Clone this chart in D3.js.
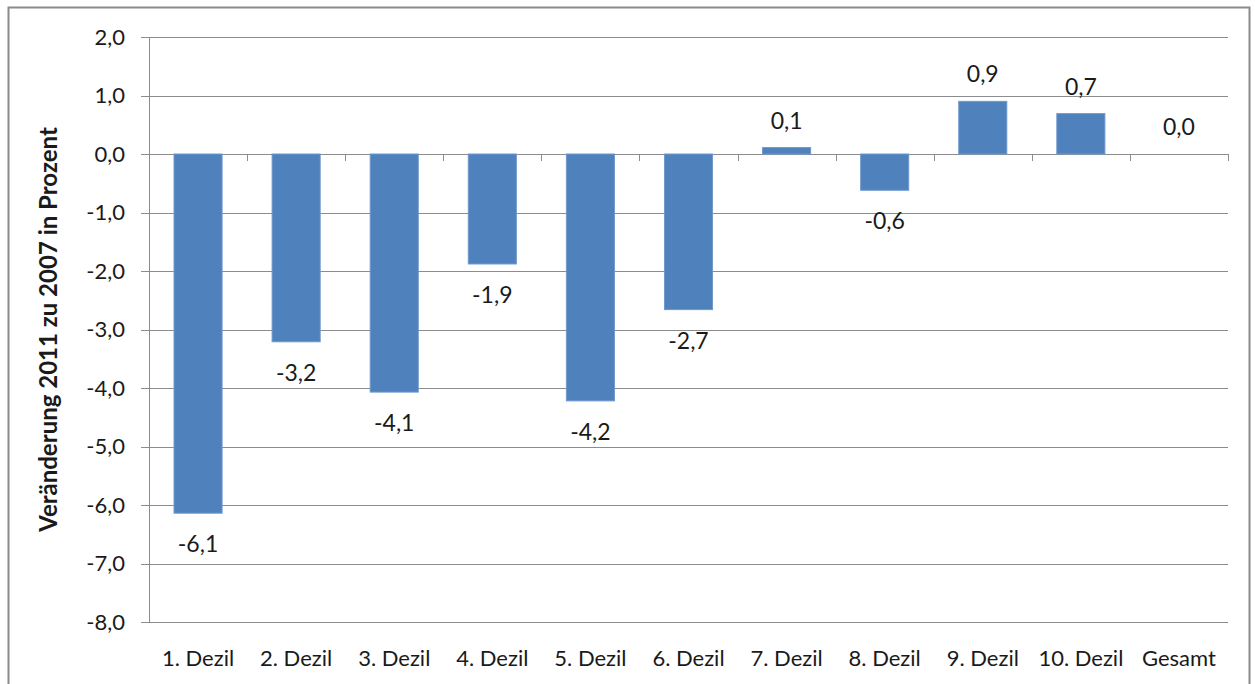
<!DOCTYPE html>
<html>
<head>
<meta charset="utf-8">
<script src="https://cdn.jsdelivr.net/npm/d3@7"></script>
<style>
  body { margin: 0; background: #fff; }
  svg text { font-family: Lato, "Open Sans", sans-serif; fill: #1a1a1a; }
</style>
</head>
<body>
<svg id="chart" width="1255" height="684"></svg>
<script>
var categories = ["1. Dezil", "2. Dezil", "3. Dezil", "4. Dezil", "5. Dezil", "6. Dezil",
                  "7. Dezil", "8. Dezil", "9. Dezil", "10. Dezil", "Gesamt"];
var values = [-6.14, -3.21, -4.07, -1.88, -4.22, -2.66, 0.11, -0.62, 0.9, 0.69, 0.0];
var yTicks = [2, 1, 0, -1, -2, -3, -4, -5, -6, -7, -8];
var yTitle = "Veränderung 2011 zu 2007 in Prozent";

var BAR_COLOR = "#4F81BD";
var GRID_COLOR = "#8c8c8c";

var svg = d3.select("#chart");

// outer chart border
svg.append("rect")
    .attr("x", 8.5).attr("y", 7.5)
    .attr("width", 1241).attr("height", 690)
    .attr("fill", "none")
    .attr("stroke", "#8a8a8a")
    .attr("stroke-width", 2);

var plotLeft = 149, plotRight = 1228, plotTop = 37, plotBottom = 622;

var x = d3.scaleBand()
    .domain(categories)
    .range([plotLeft, plotRight])
    .paddingInner(0.51)
    .paddingOuter(0.255);

var y = d3.scaleLinear()
    .domain([-8, 2])
    .range([plotBottom, plotTop]);

var fmt = function (v) { return d3.format(".1f")(v).replace(".", ",").replace("−", "-"); };

// horizontal gridlines
svg.append("g").selectAll("line")
    .data(yTicks)
    .enter().append("line")
    .attr("x1", plotLeft - 8).attr("x2", plotRight)
    .attr("y1", function (d) { return Math.round(y(d)) + 0.5; })
    .attr("y2", function (d) { return Math.round(y(d)) + 0.5; })
    .attr("stroke", GRID_COLOR)
    .attr("stroke-width", 1);

// y axis line
svg.append("line")
    .attr("x1", plotLeft + 0.5).attr("x2", plotLeft + 0.5)
    .attr("y1", plotTop).attr("y2", plotBottom + 0.5)
    .attr("stroke", GRID_COLOR);

// y tick labels
svg.append("g").selectAll("text")
    .data(yTicks)
    .enter().append("text")
    .attr("x", 125)
    .attr("y", function (d) { return y(d); })
    .attr("dy", "0.35em")
    .attr("text-anchor", "end")
    .style("font-size", "22px")
    .text(fmt);

// category ticks along the zero line
var boundaries = d3.range(1, categories.length + 1).map(function (i) {
    return plotLeft + i * (plotRight - plotLeft) / categories.length;
});
svg.append("g").selectAll("line")
    .data(boundaries)
    .enter().append("line")
    .attr("x1", function (d) { return Math.round(d) + 0.5; })
    .attr("x2", function (d) { return Math.round(d) + 0.5; })
    .attr("y1", Math.round(y(0)))
    .attr("y2", Math.round(y(0)) + 7)
    .attr("stroke", GRID_COLOR);

// bars
svg.append("g").selectAll("rect")
    .data(values)
    .enter().append("rect")
    .attr("x", function (d, i) { return x(categories[i]); })
    .attr("width", x.bandwidth())
    .attr("y", function (d) { return y(Math.max(0, d)); })
    .attr("height", function (d) { return Math.abs(y(d) - y(0)); })
    .attr("fill", BAR_COLOR)
    .attr("stroke", "#6f98cc")
    .attr("stroke-width", 1);

// value labels
svg.append("g").selectAll("text")
    .data(values)
    .enter().append("text")
    .attr("x", function (d, i) { return x(categories[i]) + x.bandwidth() / 2; })
    .attr("y", function (d) { return d < 0 ? y(d) + 31 : y(d) - 27; })
    .attr("dy", "0.35em")
    .attr("text-anchor", "middle")
    .style("font-size", "23px")
    .text(fmt);

// category labels
svg.append("g").selectAll("text")
    .data(categories)
    .enter().append("text")
    .attr("x", function (d) { return x(d) + x.bandwidth() / 2; })
    .attr("y", 658)
    .attr("dy", "0.35em")
    .attr("text-anchor", "middle")
    .style("font-size", "22px")
    .text(function (d) { return d; });

// y axis title
svg.append("text")
    .attr("transform", "translate(49," + ((plotTop + plotBottom) / 2) + ") rotate(-90)")
    .attr("dy", "0.35em")
    .attr("text-anchor", "middle")
    .style("font-size", "24px")
    .style("font-weight", "bold")
    .text(yTitle);
</script>
</body>
</html>
